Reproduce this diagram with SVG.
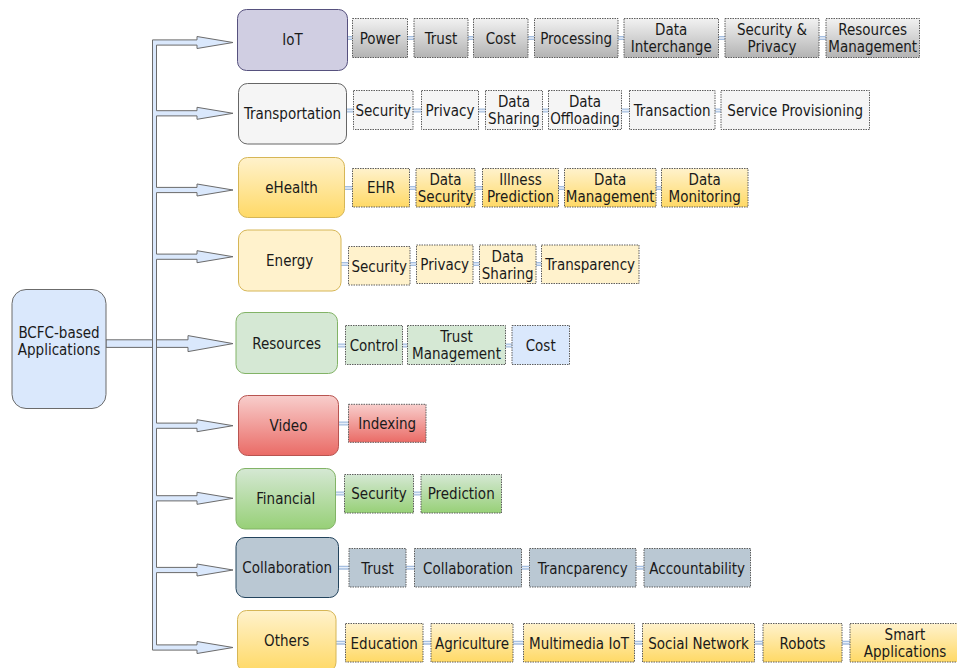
<svg xmlns="http://www.w3.org/2000/svg" xmlns:xlink="http://www.w3.org/1999/xlink" width="957" height="668" viewBox="0 0 957 668">
<defs>
<linearGradient id="gGray" x1="0" y1="0" x2="0" y2="1"><stop offset="0" stop-color="#f2f2f2"/><stop offset="1" stop-color="#b3b3b3"/></linearGradient>
<linearGradient id="gYel" x1="0" y1="0" x2="0" y2="1"><stop offset="0" stop-color="#fff2cc"/><stop offset="1" stop-color="#ffd966"/></linearGradient>
<linearGradient id="gRed" x1="0" y1="0" x2="0" y2="1"><stop offset="0" stop-color="#f8cecc"/><stop offset="1" stop-color="#ea6b66"/></linearGradient>
<linearGradient id="gGrn" x1="0" y1="0" x2="0" y2="1"><stop offset="0" stop-color="#d5e8d4"/><stop offset="1" stop-color="#97d077"/></linearGradient>
<path id="links" d="M347.5,38H352.5M407.5,38H414M468,38H473.5M528,38H534.5M618,38H624M718.5,38H725M819,38H826
M346.5,110.5H353.5M413,110.5H421.5M478.5,110.5H485.5M542.5,110.5H548.5M621.5,110.5H629.5M715,110.5H721
M344.5,188H352.5M409.5,188H416M475,188H482.5M558.5,188H564.5M656,188H661.5
M341,264H348.5M410,264H416.5M473,264H479.5M536,264H541.5
M337.5,345.5H345.5M402.5,345.5H407.5M505.5,345.5H512
M338.5,423.5H348.5
M335.5,493.5H344.5M413.5,493.5H421
M338.5,567.7H349M406,567.7H414.5M521.5,567.7H529.5M636,567.7H644
M336,642.7H345.5M423,642.7H431M513,642.7H523.5M634.5,642.7H642.5M754.5,642.7H763M842,642.7H850"/>
</defs>
<style>
text{font-family:'DejaVu Sans Condensed','DejaVu Sans',sans-serif;font-stretch:condensed;font-size:15px;fill:#1a1a1a;text-anchor:middle}
.item{stroke:#5e5e5e;stroke-width:1;stroke-dasharray:1.5 1}
.arrow{fill:#dae8fc;stroke:#6b6b6b;stroke-width:1}
.lk1{stroke:#a6bfe0;stroke-width:4;fill:none}
.lk2{stroke:#e6eef9;stroke-width:1.3;fill:none}
.gray{fill:url(#gGray)}.tr{fill:#f5f5f5}.yel{fill:url(#gYel)}.ylt{fill:#fff2cc}
.grn{fill:#d5e8d4}.blu{fill:#dae8fc}.red{fill:url(#gRed)}.grg{fill:url(#gGrn)}.sl{fill:#bac8d3}
</style>
<rect width="957" height="668" fill="#ffffff"/>

<g id="connectors">
<path class="arrow" d="M106,339.8H188V335.6L233,343.6L188,351.6V347.4H106Z"/>
<path class="arrow" d="M152.5,39.9H197V36.5L233,42.5L197,48.5V45.1H156.5V110.7H197V107.3L233,113.3L197,119.3V115.9H156.5V187.4H197V184L233,190L197,196V192.6H156.5V254.1H197V250.7L233,256.7L197,262.7V259.3H156.5V423.1H197V419.7L233,425.7L197,431.7V428.3H156.5V495.7H197V492.3L233,498.3L197,504.3V500.9H156.5V567.4H197V564L233,570L197,576V572.6H156.5V644.9H197V641.5L233,647.5L197,653.5V650.1H152.5Z"/>
<use xlink:href="#links" class="lk1"/>
<use xlink:href="#links" class="lk2"/>
</g>

<g id="bcfc"><rect x="12" y="289.5" width="94" height="119" rx="14" fill="#dae8fc" stroke="#6b6b6b"/><text x="59" y="337.5">BCFC-based</text><text x="59" y="354.5">Applications</text></g>

<g id="iot"><rect x="237.5" y="9.5" width="110" height="61" rx="9" fill="#d0cee2" stroke="#56517e"/><text x="292.5" y="45.3">IoT</text></g>
<g id="transportation"><rect x="238.5" y="83.5" width="108" height="60.5" rx="9" fill="#f5f5f5" stroke="#666666"/><text x="292.5" y="119">Transportation</text></g>
<g id="ehealth"><rect x="238.5" y="157.5" width="106" height="60" rx="9" class="yel" stroke="#d6b656"/><text x="291.5" y="193">eHealth</text></g>
<g id="energy"><rect x="238.5" y="230" width="102.5" height="61" rx="9" fill="#fff2cc" stroke="#d6b656"/><text x="289.7" y="266">Energy</text></g>
<g id="resources"><rect x="236" y="312.5" width="101.5" height="61" rx="9" fill="#d5e8d4" stroke="#82b366"/><text x="286.7" y="348.5">Resources</text></g>
<g id="video"><rect x="238.5" y="395.5" width="100" height="60" rx="9" class="red" stroke="#b85450"/><text x="288.5" y="431">Video</text></g>
<g id="financial"><rect x="236" y="468.5" width="99.5" height="60.5" rx="9" class="grg" stroke="#82b366"/><text x="285.7" y="504">Financial</text></g>
<g id="collaboration"><rect x="236" y="537.5" width="102.5" height="60" rx="9" fill="#bac8d3" stroke="#23445d"/><text x="287.2" y="572.5">Collaboration</text></g>
<g id="others"><rect x="237.5" y="610.5" width="98.5" height="61" rx="9" class="yel" stroke="#d6b656"/><text x="286.7" y="646">Others</text></g>

<g id="iot-items">
<g id="iot-power"><rect class="item gray" x="352.5" y="18.5" width="55" height="39"/><text x="380" y="43.5">Power</text></g>
<g id="iot-trust"><rect class="item gray" x="414" y="18.5" width="54" height="39"/><text x="441" y="43.5">Trust</text></g>
<g id="iot-cost"><rect class="item gray" x="473.5" y="18.5" width="54.5" height="39"/><text x="500.7" y="43.5">Cost</text></g>
<g id="iot-processing"><rect class="item gray" x="534.5" y="18.5" width="83.5" height="39"/><text x="576.2" y="43.5">Processing</text></g>
<g id="iot-data"><rect class="item gray" x="624" y="18.5" width="94.5" height="39"/><text x="671.2" y="35.2">Data</text><text x="671.2" y="52.2">Interchange</text></g>
<g id="iot-secpriv"><rect class="item gray" x="725" y="18.5" width="94" height="39"/><text x="772" y="35.2">Security &amp;</text><text x="772" y="52.2">Privacy</text></g>
<g id="iot-resmgmt"><rect class="item gray" x="826" y="18.5" width="93.5" height="39"/><text x="872.7" y="35.2">Resources</text><text x="872.7" y="52.2">Management</text></g>
</g>

<g id="transport-items">
<g id="tr-security"><rect class="item tr" x="353.5" y="90.5" width="59.5" height="39"/><text x="383.2" y="115.5">Security</text></g>
<g id="tr-privacy"><rect class="item tr" x="421.5" y="90.5" width="57" height="39"/><text x="450" y="115.5">Privacy</text></g>
<g id="tr-datasharing"><rect class="item tr" x="485.5" y="90.5" width="57" height="39"/><text x="514" y="107.2">Data</text><text x="514" y="124.2">Sharing</text></g>
<g id="tr-offload"><rect class="item tr" x="548.5" y="90.5" width="73" height="39"/><text x="585" y="107.2">Data</text><text x="585" y="124.2">Offloading</text></g>
<g id="tr-transaction"><rect class="item tr" x="629.5" y="90.5" width="85.5" height="39"/><text x="672.2" y="115.5">Transaction</text></g>
<g id="tr-service"><rect class="item tr" x="721" y="90.5" width="148.5" height="39"/><text x="795.2" y="115.5">Service Provisioning</text></g>
</g>

<g id="ehealth-items">
<g id="eh-ehr"><rect class="item yel" x="352.5" y="168.5" width="57" height="38.5"/><text x="381" y="193.3">EHR</text></g>
<g id="eh-datasec"><rect class="item yel" x="416" y="168.5" width="59" height="38.5"/><text x="445.5" y="185">Data</text><text x="445.5" y="202">Security</text></g>
<g id="eh-illness"><rect class="item yel" x="482.5" y="168.5" width="76" height="38.5"/><text x="520.5" y="185">Illness</text><text x="520.5" y="202">Prediction</text></g>
<g id="eh-datamgmt"><rect class="item yel" x="564.5" y="168.5" width="91.5" height="38.5"/><text x="610.2" y="185">Data</text><text x="610.2" y="202">Management</text></g>
<g id="eh-datamon"><rect class="item yel" x="661.5" y="168.5" width="86.5" height="38.5"/><text x="704.7" y="185">Data</text><text x="704.7" y="202">Monitoring</text></g>
</g>

<g id="energy-items">
<g id="en-security"><rect class="item ylt" x="348.5" y="246.5" width="61.5" height="38.5"/><text x="379.2" y="271.5">Security</text></g>
<g id="en-privacy"><rect class="item ylt" x="416.5" y="245" width="56.5" height="38.5"/><text x="444.7" y="270">Privacy</text></g>
<g id="en-datasharing"><rect class="item ylt" x="479.5" y="245" width="56.5" height="38.5"/><text x="507.7" y="261.5">Data</text><text x="507.7" y="278.5">Sharing</text></g>
<g id="en-transparency"><rect class="item ylt" x="541.5" y="245" width="97.5" height="38.5"/><text x="590.2" y="270">Transparency</text></g>
</g>

<g id="resources-items">
<g id="rs-control"><rect class="item grn" x="345.5" y="325.5" width="57" height="39"/><text x="374" y="350.5">Control</text></g>
<g id="rs-trustmgmt"><rect class="item grn" x="407.5" y="325.5" width="98" height="39"/><text x="456.5" y="342.2">Trust</text><text x="456.5" y="359.2">Management</text></g>
<g id="rs-cost"><rect class="item blu" x="512" y="325.5" width="57.5" height="39"/><text x="540.7" y="350.5">Cost</text></g>
</g>

<g id="video-items">
<g id="vd-indexing"><rect class="item red" x="348.5" y="404.3" width="77.5" height="38"/><text x="387.2" y="428.8">Indexing</text></g>
</g>

<g id="financial-items">
<g id="fn-security"><rect class="item grg" x="344.5" y="474.5" width="69" height="38.5"/><text x="379" y="499.3">Security</text></g>
<g id="fn-prediction"><rect class="item grg" x="421" y="474.5" width="80.5" height="38.5"/><text x="461.2" y="499.3">Prediction</text></g>
</g>

<g id="collab-items">
<g id="cl-trust"><rect class="item sl" x="349" y="548.5" width="57" height="38.5"/><text x="377.5" y="573.5">Trust</text></g>
<g id="cl-collab"><rect class="item sl" x="414.5" y="548.5" width="107" height="38.5"/><text x="468" y="573.5">Collaboration</text></g>
<g id="cl-tranc"><rect class="item sl" x="529.5" y="548.5" width="106.5" height="38.5"/><text x="582.7" y="573.5">Trancparency</text></g>
<g id="cl-account"><rect class="item sl" x="644" y="548.5" width="106.5" height="38.5"/><text x="697.2" y="573.5">Accountability</text></g>
</g>

<g id="others-items">
<g id="ot-education"><rect class="item yel" x="345.5" y="623.5" width="77.5" height="38.5"/><text x="384.2" y="648.5">Education</text></g>
<g id="ot-agri"><rect class="item yel" x="431" y="623.5" width="82" height="38.5"/><text x="472" y="648.5">Agriculture</text></g>
<g id="ot-mmiot"><rect class="item yel" x="523.5" y="623.5" width="111" height="38.5"/><text x="579" y="648.5">Multimedia IoT</text></g>
<g id="ot-social"><rect class="item yel" x="642.5" y="623.5" width="112" height="38.5"/><text x="698.5" y="648.5">Social Network</text></g>
<g id="ot-robots"><rect class="item yel" x="763" y="623.5" width="79" height="38.5"/><text x="802.5" y="648.5">Robots</text></g>
<g id="ot-smart"><rect class="item yel" x="850" y="623.5" width="110" height="38.5"/><text x="905" y="640">Smart</text><text x="905" y="657">Applications</text></g>
</g>
</svg>
